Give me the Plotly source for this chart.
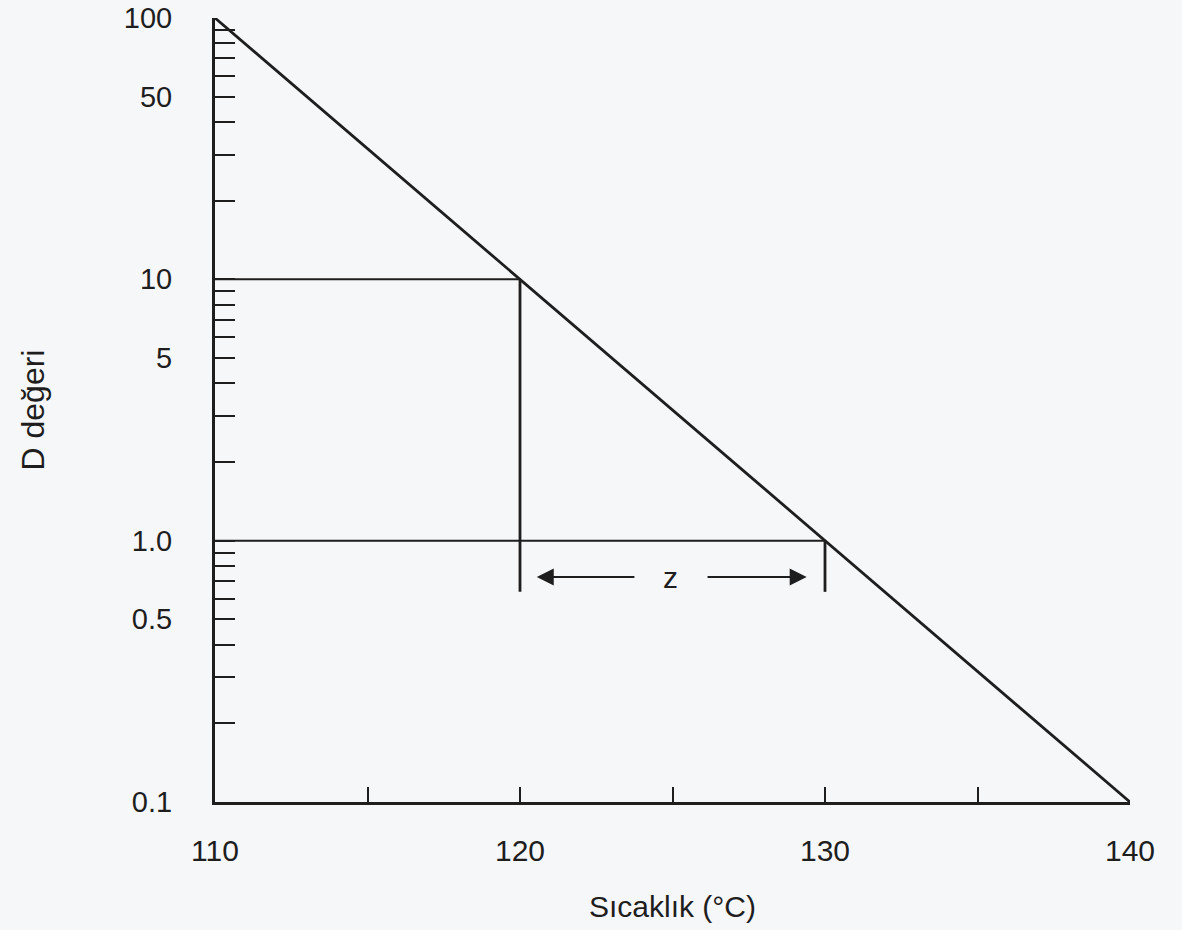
import math
import plotly.graph_objects as go

# Data
temp_line = [110, 140]
d_line = [100, 0.1]

ref_temps = [120, 130]          # temperatures where D = 10 and D = 1
ref_d = [10, 1.0]
drop_bottom = 0.637             # lower end of the vertical drop lines

arrow_y = 0.726
arrow_left = [123.8, 120.55]    # tail, head
arrow_right = [126.1, 129.4]    # tail, head
z_label_x = 124.95

y_major = [0.1, 0.5, 1.0, 5, 10, 50, 100]
y_major_text = ["0.1", "0.5", "1.0", "5", "10", "50", "100"]
y_minor = [m * d for d in (0.1, 1, 10) for m in range(1, 10)] + [100]
x_labels = [110, 120, 130, 140]
x_minor = [115, 120, 125, 130, 135]

ink = "#1e1e1e"
bg = "#f6f7f9"
font = "Liberation Sans, Arial, Helvetica, sans-serif"

fig = go.Figure()

# main D-value line
fig.add_trace(go.Scatter(x=temp_line, y=d_line, mode="lines",
                         line=dict(color=ink, width=2.8), cliponaxis=False,
                         showlegend=False, hoverinfo="skip"))

# reference lines
for t, d in zip(ref_temps, ref_d):
    fig.add_trace(go.Scatter(x=[temp_line[0], t], y=[d, d], mode="lines",
                             line=dict(color=ink, width=2), cliponaxis=False,
                             showlegend=False, hoverinfo="skip"))
    fig.add_trace(go.Scatter(x=[t, t], y=[d, drop_bottom], mode="lines",
                             line=dict(color=ink, width=2.8), cliponaxis=False,
                             showlegend=False, hoverinfo="skip"))

ly = math.log10(arrow_y)
for tail, head in (arrow_left, arrow_right):
    fig.add_annotation(x=head, y=ly, ax=tail, ay=ly, xref="x", yref="y",
                       axref="x", ayref="y", text="", showarrow=True,
                       arrowhead=2, arrowsize=1.7, arrowwidth=2,
                       arrowcolor=ink)
fig.add_annotation(x=z_label_x, y=ly, xref="x", yref="y", text="z",
                   showarrow=False, font=dict(family=font, size=30, color=ink))

fig.update_layout(
    width=1182, height=930,
    margin=dict(l=215, r=52, t=18, b=128),
    paper_bgcolor=bg, plot_bgcolor=bg,
    font=dict(family=font, color=ink),
    xaxis=dict(range=[110, 140], showgrid=False, zeroline=False,
               automargin=False,
               showline=True, linecolor=ink, linewidth=3,
               tickvals=x_labels, ticktext=[str(v) for v in x_labels],
               ticks="", ticklabelstandoff=20,
               tickfont=dict(size=30, family=font, color=ink),
               minor=dict(tickvals=x_minor, ticks="inside", ticklen=15,
                          tickwidth=2, tickcolor=ink, showgrid=False),
               title=dict(text="Sıcaklık (°C)", standoff=30,
                          font=dict(size=30, family=font, color=ink))),
    yaxis=dict(type="log", range=[-1, 2], showgrid=False, zeroline=False,
               automargin=False,
               showline=True, linecolor=ink, linewidth=3,
               tickvals=y_major, ticktext=y_major_text,
               ticks="inside", ticklen=20, tickwidth=2, tickcolor=ink,
               ticklabelstandoff=34,
               tickfont=dict(size=29, family=font, color=ink),
               minor=dict(tickvals=y_minor, ticks="inside", ticklen=20,
                          tickwidth=2, tickcolor=ink, showgrid=False),
               title=dict(text="D değeri", standoff=70,
                          font=dict(size=32, family=font, color=ink))),
)

fig.write_html("out.html", config={"displayModeBar": False},
               post_script="document.body.style.margin='0';")
